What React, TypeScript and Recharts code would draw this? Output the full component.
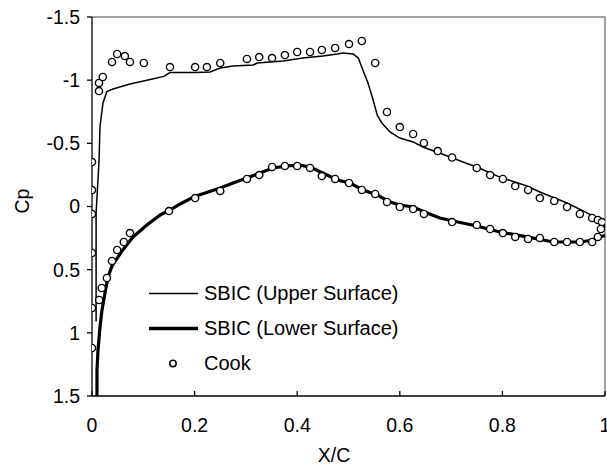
import React from 'react';
import { ScatterChart, Scatter, XAxis, YAxis, ReferenceLine, Legend } from 'recharts';

const FONT = '"Liberation Sans", Arial, sans-serif';

// SBIC upper surface
const upperX = [0.008, 0.008, 0.0136, 0.0156, 0.0214, 0.029, 0.041, 0.074, 0.107, 0.14, 0.152, 0.2, 0.23, 0.25, 0.275, 0.314, 0.322, 0.372, 0.411, 0.45, 0.478, 0.489, 0.509, 0.519, 0.528, 0.538, 0.548, 0.556, 0.565, 0.581, 0.6, 0.626, 0.645, 0.672, 0.698, 0.723, 0.75, 0.795, 0.848, 0.873, 0.926, 0.965, 0.99, 1.0];
const upperCp = [0.91, 0.05, -0.35, -0.63, -0.82, -0.91, -0.93, -0.97, -1.0, -1.03, -1.06, -1.06, -1.065, -1.096, -1.112, -1.12, -1.136, -1.152, -1.175, -1.191, -1.207, -1.215, -1.207, -1.175, -1.08, -0.978, -0.843, -0.724, -0.661, -0.59, -0.542, -0.511, -0.471, -0.431, -0.392, -0.352, -0.313, -0.233, -0.162, -0.115, -0.028, 0.051, 0.107, 0.162];

// SBIC lower surface
const lowerX = [0.0097, 0.0097, 0.0117, 0.0156, 0.0195, 0.0253, 0.0312, 0.039, 0.06, 0.08, 0.107, 0.133, 0.152, 0.172, 0.2, 0.25, 0.275, 0.302, 0.327, 0.353, 0.38, 0.405, 0.425, 0.45, 0.478, 0.503, 0.528, 0.556, 0.581, 0.6, 0.626, 0.653, 0.678, 0.704, 0.75, 0.795, 0.848, 0.899, 0.951, 0.977, 0.996, 1.0];
const lowerCp = [1.5, 1.294, 1.136, 0.954, 0.819, 0.685, 0.558, 0.47, 0.344, 0.241, 0.146, 0.067, 0.028, -0.02, -0.08, -0.146, -0.186, -0.226, -0.265, -0.305, -0.321, -0.328, -0.313, -0.265, -0.21, -0.186, -0.131, -0.091, -0.036, -0.012, 0.004, 0.051, 0.091, 0.115, 0.154, 0.202, 0.241, 0.281, 0.281, 0.265, 0.234, 0.23];

// Cook experimental data
const cookX = [0, 0, 0, 0, 0, 0, 0.0136, 0.0136, 0.021, 0.039, 0.049, 0.064, 0.074, 0.101, 0.152, 0.201, 0.224, 0.25, 0.302, 0.326, 0.351, 0.376, 0.4, 0.425, 0.448, 0.474, 0.501, 0.526, 0.552, 0.575, 0.6, 0.626, 0.647, 0.674, 0.702, 0.75, 0.776, 0.801, 0.825, 0.85, 0.873, 0.901, 0.926, 0.951, 0.975, 0.986, 0.994, 0.992, 0.986, 0.975,
  0.951, 0.926, 0.901, 0.873, 0.85, 0.825, 0.801, 0.776, 0.75, 0.702, 0.647, 0.626, 0.6, 0.575, 0.552, 0.526, 0.501, 0.474, 0.448, 0.425, 0.4, 0.376, 0.351, 0.326, 0.302, 0.25, 0.201, 0.15, 0.074, 0.062, 0.049, 0.039, 0.029, 0.019, 0.014];
const cookCp = [1.12, 0.803, 0.368, 0.059, -0.13, -0.352, -0.914, -0.978, -1.025, -1.144, -1.207, -1.191, -1.144, -1.136, -1.104, -1.104, -1.104, -1.136, -1.168, -1.183, -1.175, -1.199, -1.223, -1.223, -1.239, -1.255, -1.286, -1.31, -1.136, -0.748, -0.629, -0.574, -0.503, -0.439, -0.388, -0.305, -0.249, -0.218, -0.162, -0.131, -0.067, -0.044, 0.004, 0.059, 0.091, 0.107, 0.123, 0.178, 0.241, 0.281,
  0.281, 0.281, 0.281, 0.249, 0.257, 0.241, 0.21, 0.178, 0.146, 0.123, 0.059, 0.02, 0.004, -0.036, -0.099, -0.131, -0.186, -0.218, -0.241, -0.305, -0.321, -0.321, -0.313, -0.249, -0.218, -0.123, -0.067, 0.036, 0.21, 0.281, 0.344, 0.431, 0.566, 0.645, 0.74];

const xTicks = [0, 0.2, 0.4, 0.6, 0.8, 1];
const xTickLabels = ['0', '0.2', '0.4', '0.6', '0.8', '1'];
const yTicks = [-1.5, -1, -0.5, 0, 0.5, 1, 1.5];
const yTickLabels = ['-1.5', '-1', '-0.5', '0', '0.5', '1', '1.5'];

const legendNames = ['SBIC (Upper Surface)', 'SBIC (Lower Surface)', 'Cook'];
const legendKinds = ['thin', 'thick', 'circle'];

const zip = (xs: number[], ys: number[]) => xs.map((x, i) => ({ x, cp: ys[i] }));
const upperData = zip(upperX, upperCp);
const lowerData = zip(lowerX, lowerCp);
const cookData = zip(cookX, cookCp);

const TICK_FS = 19.5;

const XTick = (props: any) => {
  const { x, y, payload } = props;
  const idx = xTicks.indexOf(payload.value);
  return (
    <g>
      <line x1={x} x2={x} y1={y} y2={y - 5} stroke="#000" strokeWidth={1.3} />
      <text x={x} y={y + 36} textAnchor="middle" fontSize={TICK_FS} fontFamily={FONT} fill="#000">
        {idx >= 0 ? xTickLabels[idx] : payload.value}
      </text>
    </g>
  );
};

const yFmt = (v: number) => {
  const i = yTicks.indexOf(v);
  return i >= 0 ? yTickLabels[i] : String(v);
};

const renderLegend = () => (
  <div style={{ fontFamily: FONT, fontSize: 20, color: '#000' }}>
    {legendNames.map((name, i) => (
      <div key={name} style={{ display: 'flex', alignItems: 'center', height: 35, whiteSpace: 'nowrap' }}>
        <svg width={49} height={35} style={{ display: 'block' }}>
          {legendKinds[i] === 'thin' && <line x1={0} x2={49} y1={17.5} y2={17.5} stroke="#000" strokeWidth={1.5} />}
          {legendKinds[i] === 'thick' && <line x1={0} x2={49} y1={17.5} y2={17.5} stroke="#000" strokeWidth={3.5} />}
          {legendKinds[i] === 'circle' && <circle cx={24} cy={17.5} r={3.2} fill="#fff" stroke="#000" strokeWidth={1.5} />}
        </svg>
        <span style={{ marginLeft: 6, lineHeight: '35px' }}>{name}</span>
      </div>
    ))}
  </div>
);

const Empty = () => <g />;
const CookDot = (p: any) => <circle cx={p.cx} cy={p.cy} r={3.6} fill="#fff" stroke="#000" strokeWidth={1.4} />;

export default function App() {
  return (
    <div style={{ position: 'absolute', left: 0, top: 0, background: '#fff' }}>
      <ScatterChart width={607} height={470} margin={{ top: 17, right: 2, bottom: 0, left: 0 }}>
        <XAxis
          type="number"
          dataKey="x"
          domain={[0, 1]}
          ticks={xTicks}
          interval={0}
          tickSize={0}
          tickMargin={0}
          tickLine={false}
          tick={<XTick />}
          height={74}
          axisLine={{ stroke: '#000', strokeWidth: 1.3 }}
          allowDataOverflow
          label={{
            content: () => (
              <text x={334} y={462} textAnchor="middle" fontSize={TICK_FS} fontFamily={FONT} fill="#000">X/C</text>
            ),
          }}
        />
        <YAxis
          type="number"
          dataKey="cp"
          domain={[-1.5, 1.5]}
          reversed
          ticks={yTicks}
          interval={0}
          tickFormatter={yFmt}
          width={92}
          tickSize={5}
          tickMargin={7}
          tickLine={{ stroke: '#000', strokeWidth: 1.3 }}
          axisLine={{ stroke: '#000', strokeWidth: 1.3 }}
          tick={{ fontSize: TICK_FS, fontFamily: FONT, fill: '#000' }}
          allowDataOverflow
          label={{
            content: () => (
              <text x={22} y={201} transform="rotate(-90, 22, 201)" textAnchor="middle" dominantBaseline="central" fontSize={TICK_FS} fontFamily={FONT} fill="#000">Cp</text>
            ),
          }}
        />
        <ReferenceLine y={-1.5} stroke="#808080" strokeWidth={1.5} />
        <ReferenceLine x={1} stroke="#808080" strokeWidth={1.5} />
        <Scatter data={upperData} line={{ stroke: '#000', strokeWidth: 1.5 }} shape={<Empty />} isAnimationActive={false} legendType="none" />
        <Scatter data={lowerData} line={{ stroke: '#000', strokeWidth: 3.2 }} shape={<Empty />} isAnimationActive={false} legendType="none" />
        <Scatter data={cookData} shape={<CookDot />} isAnimationActive={false} legendType="none" />
        <Legend
          layout="horizontal"
          verticalAlign="middle"
          align="center"
          content={renderLegend}
          wrapperStyle={{ left: 149, top: 275.5, width: 'auto', height: 'auto' }}
        />
      </ScatterChart>
    </div>
  );
}
